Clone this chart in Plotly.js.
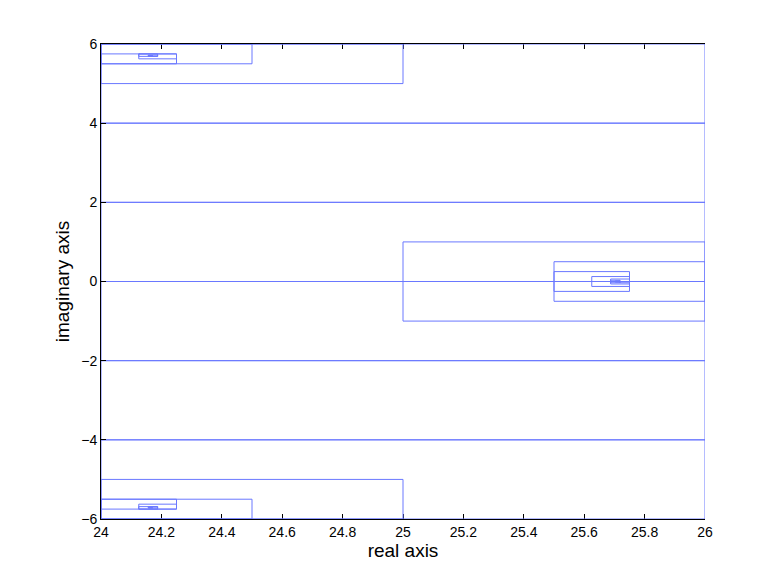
<!DOCTYPE html>
<html>
<head>
<meta charset="utf-8">
<script src="https://cdn.plot.ly/plotly-3.0.1.min.js"></script>
<style>
  html, body { margin: 0; padding: 0; background: #fff; }
  #grafico { width: 778px; height: 584px; }
</style>
</head>
<body>
<div id="grafico"></div>
<script>
// Rectángulos de la subdivisión (x0, x1, y0, y1)
const rectX0 = [24, 24, 24, 24, 24, 24,
                24, 24, 24, 24.125, 24.125, 24.15625, 24.15625,
                24, 24, 24, 24.125, 24.125, 24.15625, 24.15625,
                25, 25.5, 25.5, 25.625, 25.6875, 25.6875, 25.71875, 25.703125];
const rectX1 = [26, 26, 26, 26, 26, 26,
                25, 24.5, 24.25, 24.25, 24.1875, 24.1875, 24.171875,
                25, 24.5, 24.25, 24.25, 24.1875, 24.1875, 24.171875,
                26, 26, 25.75, 25.75, 25.75, 25.71875, 25.75, 25.71875];
const rectY0 = [4, 2, 0, -2, -4, -6,
                5, 5.5, 5.5, 5.625, 5.6875, 5.6875, 5.703125,
                -6, -6, -5.75, -5.75, -5.75, -5.71875, -5.71875,
                -1, -0.5, -0.25, -0.125, -0.0625, -0.03125, -0.03125, -0.015625];
const rectY1 = [6, 4, 2, 0, -2, -4,
                6, 6, 5.75, 5.75, 5.75, 5.71875, 5.71875,
                -5, -5.5, -5.5, -5.625, -5.6875, -5.6875, -5.703125,
                1, 0.5, 0.25, 0.125, 0.0625, 0.03125, 0, 0.015625];

const xTicks = [24, 24.2, 24.4, 24.6, 24.8, 25, 25.2, 25.4, 25.6, 25.8, 26];
const xTickText = ['24', '24.2', '24.4', '24.6', '24.8', '25', '25.2', '25.4', '25.6', '25.8', '26'];
const yTicks = [-6, -4, -2, 0, 2, 4, 6];

// Un solo trazo con los contornos separados por null
const xs = [];
const ys = [];
for (let i = 0; i < rectX0.length; i++) {
    xs.push(rectX0[i], rectX1[i], rectX1[i], rectX0[i], rectX0[i], null);
    ys.push(rectY0[i], rectY0[i], rectY1[i], rectY1[i], rectY0[i], null);
}

const traceRects = {
    x: xs,
    y: ys,
    type: 'scatter',
    mode: 'lines',
    line: { color: '#6a78ff', width: 1 },
    connectgaps: false,
    hoverinfo: 'none',
    showlegend: false
};

const fuente = { family: 'Liberation Sans, Arial, sans-serif', size: 14, color: '#000' };
const fuenteTitulo = { family: 'Liberation Sans, Arial, sans-serif', size: 19, color: '#000' };

const layout = {
    width: 778,
    height: 584,
    margin: { l: 101, r: 73, t: 44, b: 65 },
    paper_bgcolor: '#fff',
    plot_bgcolor: '#fff',
    font: fuente,
    showlegend: false,
    xaxis: {
        range: [24, 26],
        tickvals: xTicks,
        ticktext: xTickText,
        ticks: 'inside',
        ticklen: 5,
        tickcolor: '#000',
        showgrid: false,
        zeroline: false,
        showline: true,
        linecolor: '#000',
        linewidth: 1,
        mirror: 'ticks',
        layer: 'below traces',
        tickfont: fuente,
        title: { text: 'real axis', font: fuenteTitulo, standoff: 4 }
    },
    yaxis: {
        range: [-6, 6],
        tickvals: yTicks,
        ticks: 'inside',
        ticklen: 5,
        tickcolor: '#000',
        showgrid: false,
        zeroline: false,
        showline: true,
        linecolor: '#000',
        linewidth: 1,
        layer: 'above traces',
        tickfont: fuente,
        title: { text: 'imaginary axis', font: fuenteTitulo, standoff: 6 }
    }
};

Plotly.newPlot('grafico', [traceRects], layout, { displayModeBar: false, staticPlot: true });
</script>
</body>
</html>
